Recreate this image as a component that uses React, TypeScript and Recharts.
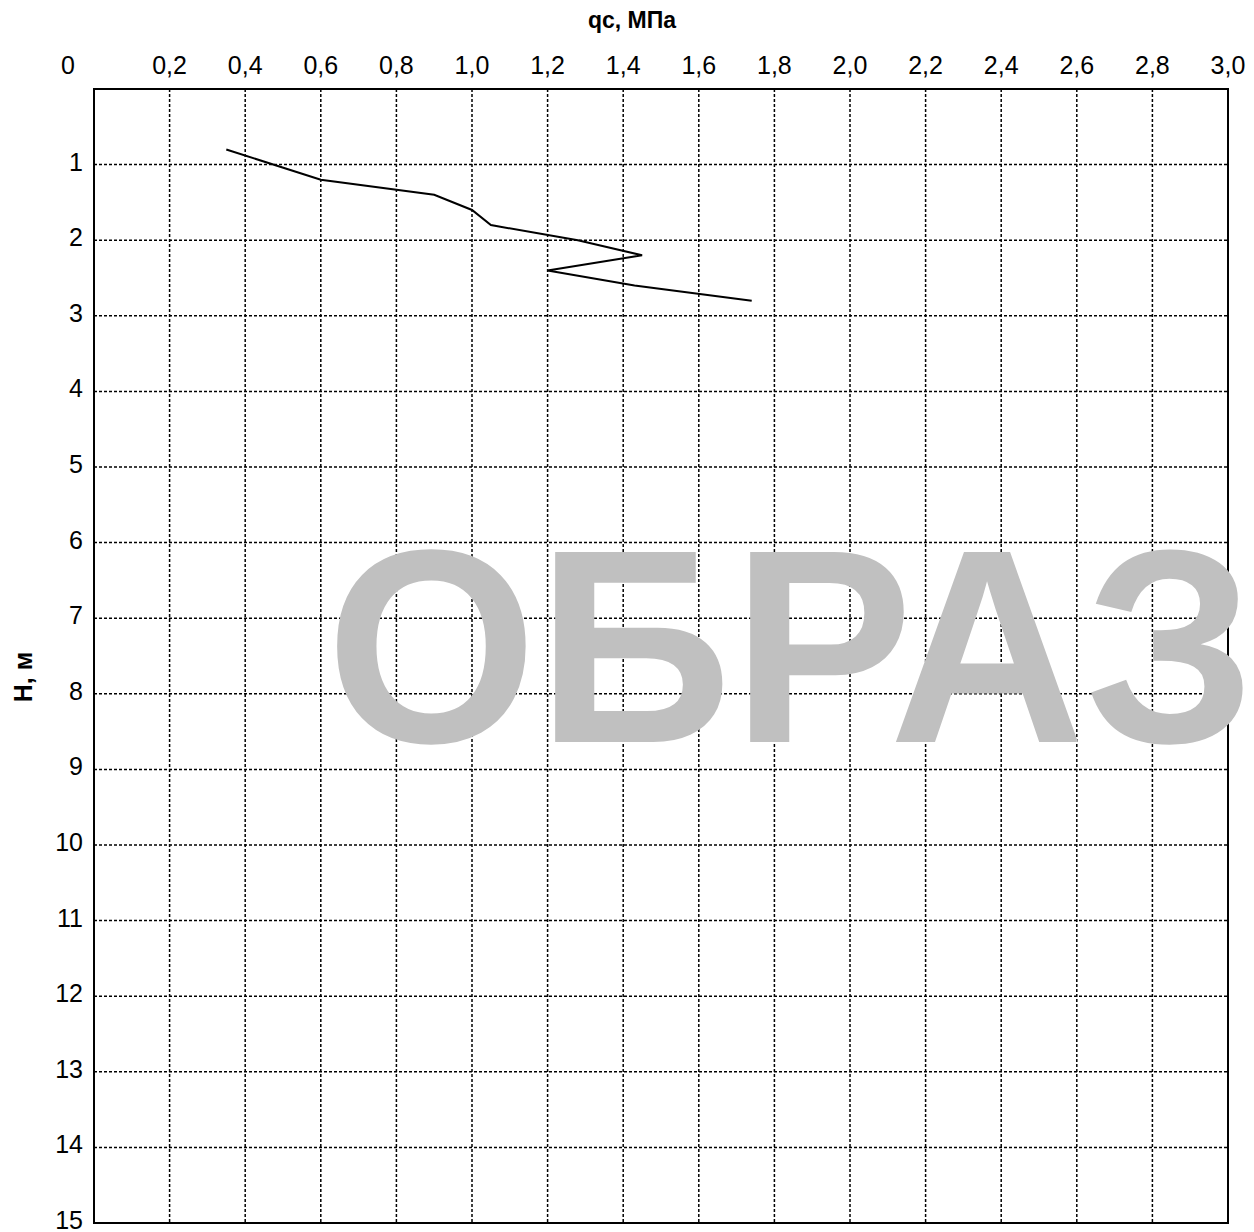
import React from 'react';
import { LineChart, Line, XAxis, YAxis, CartesianGrid, ReferenceArea, Label } from 'recharts';

// sounding profile: cone resistance qc (MPa) vs depth H (m)
const qcValues = [0.35, 0.6, 0.9, 1.0, 1.05, 1.28, 1.45, 1.2, 1.43, 1.74];
const depthValues = [0.8, 1.2, 1.4, 1.6, 1.8, 2.0, 2.2, 2.4, 2.6, 2.8];

const xTicks = [0, 0.2, 0.4, 0.6, 0.8, 1.0, 1.2, 1.4, 1.6, 1.8, 2.0, 2.2, 2.4, 2.6, 2.8, 3.0];
const yTicks = [1, 2, 3, 4, 5, 6, 7, 8, 9, 10, 11, 12, 13, 14, 15];

const xTitle = 'qc, МПа';
const yTitle = 'H, м';
const watermark = 'ОБРАЗ';

const data = qcValues.map((qc, i) => ({ qc, h: depthValues[i] }));

const FONT = '"Liberation Sans", Arial, sans-serif';

const fmt = (v: number) => (v === 0 ? '0' : v.toFixed(1).replace('.', ','));

const XTick = (props: any) => {
  const { x, y, payload } = props;
  const v = payload.value;
  return (
    <text x={v === 0 ? x - 26 : x} y={y} textAnchor="middle" fontSize={25} fontFamily={FONT} fill="#000">
      {fmt(v)}
    </text>
  );
};

const YTick = (props: any) => {
  const { x, y, payload } = props;
  return (
    <text x={x} y={y} dy="0.24em" textAnchor="end" fontSize={25} fontFamily={FONT} fill="#000">
      {payload.value}
    </text>
  );
};

export default function App() {
  return (
    <div style={{ position: 'relative', width: 1246, height: 1224 }}>
      <LineChart
        width={1246}
        height={1224}
        data={data}
        margin={{ top: 36, right: 26, bottom: 9, left: 26 }}
      >
        <CartesianGrid stroke="#000" strokeWidth={1.5} strokeDasharray="3 2" />
        <XAxis
          dataKey="qc"
          type="number"
          orientation="top"
          domain={[0, 3]}
          ticks={xTicks}
          interval={0}
          height={45}
          axisLine={false}
          tickLine={false}
          tickSize={0}
          tickMargin={15}
          tick={<XTick />}
        >
          <Label
            content={() => (
              <text x={624} y={20} textAnchor="middle" fontSize={23} fontWeight="bold" fontFamily={FONT} fill="#000">
                {xTitle}
              </text>
            )}
          />
        </XAxis>
        <YAxis
          type="number"
          reversed
          domain={[0, 15]}
          ticks={yTicks}
          interval={0}
          width={60}
          axisLine={false}
          tickLine={false}
          tickSize={0}
          tickMargin={11}
          tick={<YTick />}
        >
          <Label
            content={() => (
              <text
                transform="translate(15,669) rotate(-90)"
                dy="0.36em"
                textAnchor="middle"
                fontSize={25}
                fontWeight="bold"
                fontFamily={FONT}
                fill="#000"
              >
                {yTitle}
              </text>
            )}
          />
        </YAxis>
        <ReferenceArea
          x1={0}
          x2={3}
          y1={0}
          y2={15}
          fill="none"
          stroke="#000"
          strokeWidth={2}
          ifOverflow="visible"
        />
        <Line
          type="linear"
          dataKey="h"
          stroke="#000"
          strokeWidth={2}
          dot={false}
          isAnimationActive={false}
        />
      </LineChart>
      <svg
        width={1246}
        height={1224}
        style={{ position: 'absolute', left: 0, top: 0, pointerEvents: 'none' }}
      >
        <text
          transform="translate(318,734) scale(0.983,1)"
          x={0}
          y={0}
          fontSize={276}
          fontWeight="bold"
          fontFamily={FONT}
          fill="#c0c0c0"
        >
          {watermark}
        </text>
      </svg>
    </div>
  );
}
